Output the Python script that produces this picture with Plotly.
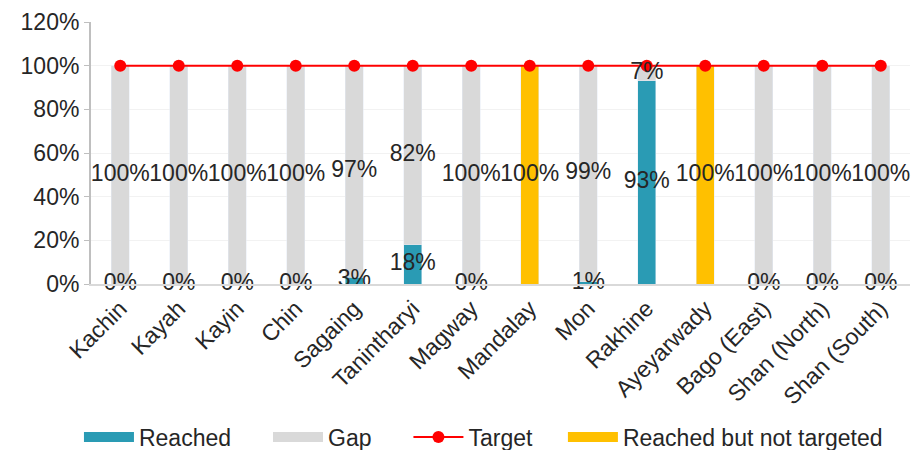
import plotly.graph_objects as go

categories = ["Kachin", "Kayah", "Kayin", "Chin", "Sagaing", "Tanintharyi", "Magway",
              "Mandalay", "Mon", "Rakhine", "Ayeyarwady", "Bago (East)", "Shan (North)", "Shan (South)"]
reached = [0, 0, 0, 0, 3, 18, 0, None, 1, 93, None, 0, 0, 0]
gap = [100, 100, 100, 100, 97, 82, 100, None, 99, 7, None, 100, 100, 100]
target = [100] * 14
reached_not_targeted = [None, None, None, None, None, None, None, 100, None, None, 100, None, None, None]

C_REACHED = "#2A9BB4"
C_GAP = "#D9D9D9"
C_TARGET = "#FF0000"
C_RBNT = "#FFC000"
TXT = "#262626"
FONT = "Liberation Sans, Arial, sans-serif"
PAD = "\u00a0"

def frac(v):
    return None if v is None else v / 100

fig = go.Figure()
fig.add_trace(go.Bar(name="Reached", x=categories, y=[frac(v) for v in reached],
                     marker_color=C_REACHED, width=0.31, showlegend=False))
fig.add_trace(go.Bar(name="Gap", x=categories, y=[frac(v) for v in gap],
                     marker_color=C_GAP, width=0.31, showlegend=False))
fig.add_trace(go.Scatter(name="Target", x=categories, y=[frac(v) for v in target],
                         mode="lines+markers", line=dict(color=C_TARGET, width=2),
                         marker=dict(color=C_TARGET, size=12), showlegend=False))
fig.add_trace(go.Bar(name="Reached but not targeted", x=categories,
                     y=[frac(v) for v in reached_not_targeted],
                     marker_color=C_RBNT, width=0.31, showlegend=False))

# legend entries with wide swatches
fig.add_trace(go.Scatter(x=[None], y=[None], name="Reached" + PAD * 5, mode="lines",
                         line=dict(color=C_REACHED, width=14)))
fig.add_trace(go.Scatter(x=[None], y=[None], name="Gap" + PAD * 5, mode="lines",
                         line=dict(color=C_GAP, width=14)))
fig.add_trace(go.Scatter(x=[None], y=[None], name="Target" + PAD * 4, mode="lines+markers",
                         line=dict(color=C_TARGET, width=2), marker=dict(color=C_TARGET, size=12)))
fig.add_trace(go.Scatter(x=[None], y=[None], name="Reached but not targeted", mode="lines",
                         line=dict(color=C_RBNT, width=14)))

# data labels centred in each segment
lx, ly, lt = [], [], []
for c, r, g, n in zip(categories, reached, gap, reached_not_targeted):
    if r is not None:
        lx.append(c); ly.append(r / 200); lt.append(f"{r}%")
    if g is not None:
        lx.append(c); ly.append(((r or 0) + g / 2) / 100); lt.append(f"{g}%")
    if n is not None:
        lx.append(c); ly.append(n / 200); lt.append(f"{n}%")
fig.add_trace(go.Scatter(x=lx, y=ly, text=lt, mode="text", showlegend=False,
                         textfont=dict(size=23, color=TXT, family=FONT),
                         cliponaxis=False, hoverinfo="skip"))

fig.update_layout(
    barmode="stack",
    width=913, height=450,
    margin=dict(l=91, r=3, t=22, b=166, autoexpand=False),
    plot_bgcolor="white", paper_bgcolor="white",
    font=dict(family=FONT, size=23, color=TXT),
    showlegend=True,
    legend=dict(orientation="h", x=-0.0147, xanchor="left", y=-0.584, yanchor="middle",
                font=dict(size=23, color=TXT), traceorder="normal", itemwidth=50),
)
fig.update_yaxes(range=[0, 1.2], dtick=0.2, tickformat=".0%", showgrid=True,
                 gridcolor="#F2F2F2", gridwidth=1, showline=True, linecolor="#BFBFBF",
                 linewidth=2, ticks="outside", tickcolor="#BFBFBF", ticklen=5,
                 zeroline=False, tickfont=dict(size=23, color=TXT), automargin=False)
fig.update_xaxes(range=[-0.5, len(categories) - 0.5], showline=True, linecolor="#D9D9D9",
                 linewidth=2, tickangle=-45, tickfont=dict(size=23, color=TXT),
                 showgrid=False, automargin=False)

fig.write_html("out.html", post_script="document.body.style.margin='0';",
               config={"displayModeBar": False})
